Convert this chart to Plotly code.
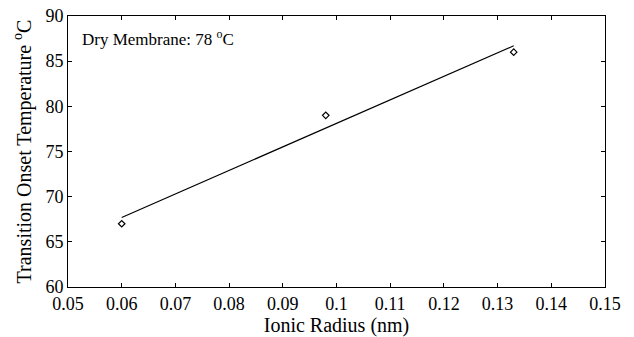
import plotly.graph_objects as go

ionic_radius = [0.06, 0.098, 0.133]
onset_temp = [67, 79, 86]
fit_x = [0.06, 0.133]
fit_y = [67.7, 86.7]
x_ticks = [0.05, 0.06, 0.07, 0.08, 0.09, 0.1, 0.11, 0.12, 0.13, 0.14, 0.15]
x_ticklabels = ["0.05", "0.06", "0.07", "0.08", "0.09", "0.1", "0.11", "0.12", "0.13", "0.14", "0.15"]
y_ticks = [60, 65, 70, 75, 80, 85, 90]

font_family = "Liberation Serif"

fig = go.Figure()
fig.add_trace(go.Scatter(x=fit_x, y=fit_y, mode="lines",
                         line=dict(color="black", width=1.2), showlegend=False))
fig.add_trace(go.Scatter(x=ionic_radius, y=onset_temp, mode="markers",
                         marker=dict(symbol="diamond-open", size=5, color="black",
                                     line=dict(width=1.2, color="black")),
                         showlegend=False))

axis_common = dict(showline=True, linecolor="black", linewidth=1, mirror="ticks",
                   ticks="inside", ticklen=4, tickcolor="black", showgrid=False,
                   zeroline=False, automargin=False,
                   tickfont=dict(family=font_family, size=18, color="black"))

fig.update_layout(
    width=634, height=337,
    margin=dict(l=68, r=29, t=16, b=50),
    paper_bgcolor="white", plot_bgcolor="white",
    font=dict(family=font_family, color="black"),
    xaxis=dict(range=[0.05, 0.15], tickvals=x_ticks, ticktext=x_ticklabels,
               title=dict(text="Ionic Radius (nm)", font=dict(family=font_family, size=20), standoff=4),
               **axis_common),
    yaxis=dict(range=[60, 90], tickvals=y_ticks,
               title=dict(text="Transition Onset Temperature <sup>o</sup>C",
                          font=dict(family=font_family, size=20), standoff=8),
               **axis_common),
    annotations=[dict(text="Dry Membrane: 78 <sup>o</sup>C", xref="paper", yref="paper",
                      x=0.022, y=0.92, xanchor="left", yanchor="middle", showarrow=False,
                      font=dict(family=font_family, size=17, color="black"))],
)

fig.write_html("out.html", post_script="document.body.style.margin='0';",
               config={"displayModeBar": False})
